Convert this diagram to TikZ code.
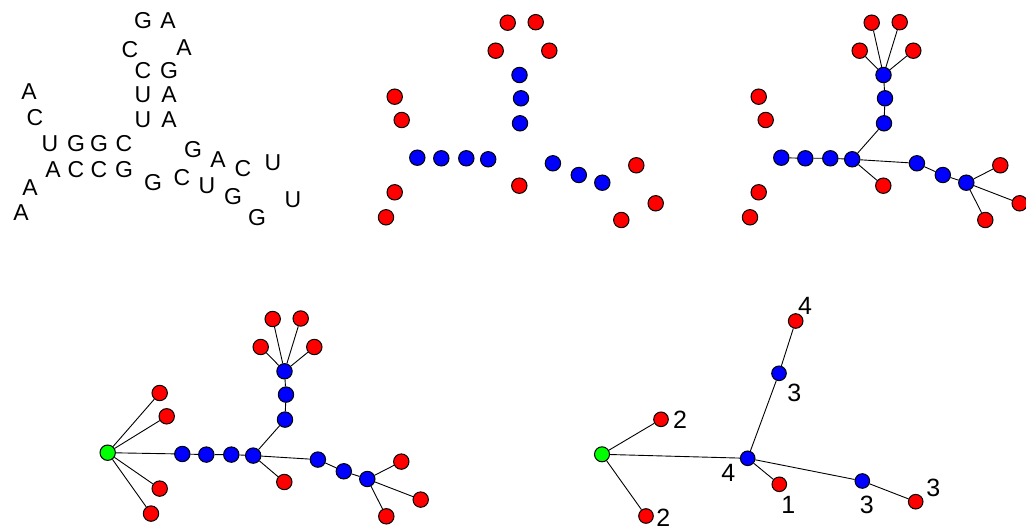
\documentclass[tikz,border=0pt]{standalone}
\usepackage{fontspec}
\setmainfont{Liberation Sans}
\pgfdeclarelayer{bg}
\pgfdeclarelayer{edges}
\pgfsetlayers{bg,edges,main}
\begin{document}
\begin{tikzpicture}[x=1pt,y=-1pt,
  base/.style={text=black,inner sep=0pt,anchor=center,font=\fontsize{23}{23}\selectfont},
  num/.style={text=black,inner sep=0pt,anchor=center,font=\fontsize{25}{25}\selectfont},
  vtx/.style={circle,draw=black,line width=1pt,minimum size=15.4pt,inner sep=0pt},
  rv/.style={vtx,fill=red},
  bv/.style={vtx,fill=blue},
  gv/.style={vtx,fill=green},
  rs/.style={rv,minimum size=14.6pt},
  bs/.style={bv,minimum size=14.6pt},
  gs/.style={gv,minimum size=15pt},
  edge/.style={draw=black,line width=0.9pt}]
\useasboundingbox (0,0) rectangle (1026,529);
\begin{pgfonlayer}{bg}
\fill[white] (0,0) rectangle (1026,529);
\end{pgfonlayer}

% ---------- panel 1: sequence ----------
\node[base] (s1) at (143,21) {G};
\node[base] (s2) at (168,21) {A};
\node[base] (s3) at (130,50) {C};
\node[base] (s4) at (184,48) {A};
\node[base] (s5) at (143,71) {C};
\node[base] (s6) at (169,71) {G};
\node[base] (s7) at (143,95) {U};
\node[base] (s8) at (169,95) {A};
\node[base] (s9) at (143,120) {U};
\node[base] (s10) at (169,120) {A};
\node[base] (s11) at (29,92) {A};
\node[base] (s12) at (35,118) {C};
\node[base] (s13) at (50,144) {U};
\node[base] (s14) at (76,144) {G};
\node[base] (s15) at (99,144) {G};
\node[base] (s16) at (124,144) {C};
\node[base] (s17) at (53,170) {A};
\node[base] (s18) at (76,170) {C};
\node[base] (s19) at (99,170) {C};
\node[base] (s20) at (124,170) {G};
\node[base] (s21) at (30,188) {A};
\node[base] (s22) at (21,213) {A};
\node[base] (s23) at (153,183) {G};
\node[base] (s24) at (182,178) {C};
\node[base] (s25) at (207,186) {U};
\node[base] (s26) at (233,197) {G};
\node[base] (s27) at (257,218) {G};
\node[base] (s28) at (193,150) {G};
\node[base] (s29) at (218,160) {A};
\node[base] (s30) at (243,169) {C};
\node[base] (s31) at (273,163) {U};
\node[base] (s32) at (293,200) {U};

% ---------- panels 2-4: base vertices ----------
\newcommand{\basegraph}[1]{%
  \node[rv] (#1r1) at (507.7,22.7) {};
  \node[rv] (#1r2) at (535.7,22.2) {};
  \node[rv] (#1r3) at (495.7,50.7) {};
  \node[rv] (#1r4) at (549.3,50.7) {};
  \node[rv] (#1l1) at (394.7,96.7) {};
  \node[rv] (#1l2) at (401.7,120) {};
  \node[rv] (#1l3) at (394.7,192.3) {};
  \node[rv] (#1l4) at (386,217.3) {};
  \node[rv] (#1j) at (519.3,185.7) {};
  \node[rv] (#1q1) at (636.3,165.3) {};
  \node[rv] (#1q2) at (655.7,203.3) {};
  \node[rv] (#1q3) at (621.3,220) {};
  \node[bv] (#1v1) at (519.5,75) {};
  \node[bv] (#1v2) at (521,98.3) {};
  \node[bv] (#1v3) at (520,123.3) {};
  \node[bv] (#1h1) at (417.3,157.7) {};
  \node[bv] (#1h2) at (441.3,158.3) {};
  \node[bv] (#1h3) at (466.3,158.3) {};
  \node[bv] (#1h4) at (488.2,159.3) {};
  \node[bv] (#1b1) at (552.9,163.3) {};
  \node[bv] (#1b2) at (578.8,175) {};
  \node[bv] (#1b3) at (602.3,182.7) {};
}
\newcommand{\treeedges}[1]{%
  \begin{pgfonlayer}{edges}
  \foreach \t in {r1,r2,r3,r4,v2} \draw[edge] (#1v1) -- (#1\t);
  \draw[edge] (#1v2) -- (#1v3);
  \draw[edge] (#1v3) -- (#1h4);
  \draw[edge] (#1h1) -- (#1h2) -- (#1h3) -- (#1h4);
  \draw[edge] (#1h4) -- (#1j);
  \draw[edge] (#1h4) -- (#1b1);
  \draw[edge] (#1b1) -- (#1b2) -- (#1b3);
  \foreach \t in {q1,q2,q3} \draw[edge] (#1b3) -- (#1\t);
  \end{pgfonlayer}
}

% panel 2
\basegraph{A}

% panel 3
\begin{scope}[shift={(364,0)}]
\basegraph{B}
\end{scope}
\treeedges{B}

% panel 4
\begin{scope}[shift={(-235,296.3)}]
\basegraph{C}
\end{scope}
\treeedges{C}
\node[gv] (Cg) at (107.7,452.7) {};
\begin{pgfonlayer}{edges}
\foreach \t in {l1,l2,l3,l4,h1} \draw[edge] (Cg) -- (C\t);
\end{pgfonlayer}

% ---------- panel 5: reduced tree ----------
\node[gs] (g) at (602,454.3) {};
\node[rs] (a) at (661,419.3) {};
\node[rs] (b) at (646,516) {};
\node[bs] (J) at (747.7,458.3) {};
\node[bs] (U) at (779,373.3) {};
\node[rs] (T) at (795.7,321) {};
\node[rs] (D) at (779.3,484.3) {};
\node[bs] (R) at (862.3,481) {};
\node[rs] (E) at (915.7,501.7) {};
\begin{pgfonlayer}{edges}
\draw[edge] (g) -- (a);
\draw[edge] (g) -- (b);
\draw[edge] (g) -- (J);
\draw[edge] (J) -- (U);
\draw[edge] (U) -- (T);
\draw[edge] (J) -- (D);
\draw[edge] (J) -- (R);
\draw[edge] (R) -- (E);
\end{pgfonlayer}
\node[num] (la) at (680,420) {2};
\node[num] (lb) at (663.3,517.5) {2};
\node[num] (lJ) at (728.3,473.3) {4};
\node[num] (lU) at (794.3,392.7) {3};
\node[num] (lT) at (805,306) {4};
\node[num] (lD) at (788.3,505) {1};
\node[num] (lR) at (866.7,505) {3};
\node[num] (lE) at (933.3,488.3) {3};
\end{tikzpicture}
\end{document}
